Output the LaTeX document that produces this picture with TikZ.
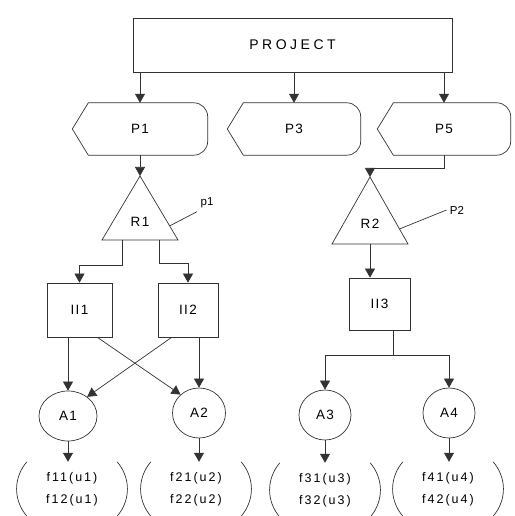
\documentclass[tikz,border=0pt]{standalone}
\usepackage{fontspec}
\setmainfont{Liberation Sans}
\usetikzlibrary{arrows.meta,shapes.geometric,calc}
\begin{document}
\begin{tikzpicture}[x=1pt,y=1pt,
  line/.style={draw=black!80, line width=0.7pt},
  arr/.style={line, -{Triangle[length=9pt,width=10pt]}},
  big/.style={font=\fontsize{14}{16}\selectfont\addfontfeature{LetterSpace=25}},
  lbl/.style={font=\fontsize{13.5}{15}\selectfont\addfontfeature{LetterSpace=10}},
  small/.style={font=\fontsize{11.5}{13}\selectfont},
  boxnode/.style={line, rectangle, inner sep=0pt, lbl},
  pnode/.style={inner sep=0pt, minimum width=133pt, minimum height=52pt, lbl},
  anode/.style={line, ellipse, inner sep=0pt, minimum width=53pt, minimum height=50pt, lbl},
  fnode/.style={inner sep=0pt, minimum width=108pt, minimum height=54pt, align=center,
    font=\fontsize{12.5}{22}\selectfont\addfontfeature{LetterSpace=16}}
]
\useasboundingbox (0,0) rectangle (514,516);

% Project
\node[boxnode, big, minimum width=319pt, minimum height=54pt] (proj) at (292.5,471) {PROJECT};

% P shapes
\node[pnode, minimum width=135pt] (P1) at (140,387) {P1};
\node[pnode] (P3) at (294,387) {P3};
\node[pnode] (P5) at (444,387) {P5};
\foreach \n in {P1,P3,P5}{
  \draw[line] (\n.west) -- ([xshift=16pt]\n.north west) -- ([xshift=-14pt]\n.north east)
    to[out=0,in=90] ([yshift=-14pt]\n.north east) -- ([yshift=14pt]\n.south east)
    to[out=-90,in=0] ([xshift=-14pt]\n.south east) -- ([xshift=16pt]\n.south west) -- cycle;
}

% Triangles
\coordinate (R1t) at (140,340);
\coordinate (R1l) at (102,276);
\coordinate (R1r) at (178,276);
\draw[line] (R1t) -- (R1l) -- (R1r) -- cycle;
\node[lbl] (R1) at (140,294) {R1};
\coordinate (R2t) at (370,339);
\coordinate (R2l) at (332,272);
\coordinate (R2r) at (408,272);
\draw[line] (R2t) -- (R2l) -- (R2r) -- cycle;
\node[lbl] (R2) at (370,292) {R2};

\node[small] (p1) at (207,313) {p1};
\draw[line] ($(R1t)!0.78!(R1r)$) -- (p1.south west);
\node[small] (p2) at (457,306) {P2};
\draw[line] ($(R2t)!0.776!(R2r)$) -- (p2.west);

% U boxes
\node[boxnode, minimum width=65pt, minimum height=54pt] (U1) at (79.5,206) {II1};
\node[boxnode, minimum width=60pt, minimum height=54pt] (U2) at (188,206) {II2};
\node[boxnode, minimum width=61pt, minimum height=52pt] (U3) at (379.5,212) {II3};

% A ellipses
\node[anode, minimum width=58pt] (A1) at (68,100) {A1};
\node[anode] (A2) at (199,103) {A2};
\node[anode, minimum width=52pt] (A3) at (325,101) {A3};
\node[anode, minimum width=52pt] (A4) at (449,103) {A4};

% f nodes
\node[fnode] (f1) at (72,27) {f11(u1)\\f12(u1)};
\node[fnode] (f2) at (196,27) {f21(u2)\\f22(u2)};
\node[fnode] (f3) at (325,26) {f31(u3)\\f32(u3)};
\node[fnode] (f4) at (448,27) {f41(u4)\\f42(u4)};
\foreach \n in {f1,f2,f3,f4}{
  \draw[line] ([xshift=9pt]\n.north west) to[bend right=40] ([xshift=9pt]\n.south west);
  \draw[line] ([xshift=-9pt]\n.north east) to[bend left=40] ([xshift=-9pt]\n.south east);
}

% connectors
\draw[arr] (P1.north |- proj.south) -- (P1.north);
\draw[arr] (P3.north |- proj.south) -- (P3.north);
\draw[arr] (P5.north |- proj.south) -- (P5.north);
\draw[arr] (P1.south) -- (R1t);
\draw[arr] (P5.south) -- ++(0,-13) -| (R2t);

\draw[arr] ($(R1l)!0.27!(R1r)$) -- ++(0,-25) -| (U1.north);
\draw[arr] ($(R1l)!0.76!(R1r)$) -- ++(0,-23) -| (U2.north);
\draw[arr] (R2l -| R2t) -- (R2t |- U3.north);

\draw[arr] (A1.north |- U1.south) -- (A1.north);
\draw[arr] ([xshift=-15pt]U1.south east) -- (A2.135);
\draw[arr] ([xshift=14pt]U2.south west) -- (A1.45);
\draw[arr] (A2.north |- U2.south) -- (A2.north);

\coordinate (j3) at ($([xshift=14pt]U3.south)+(0,-25)$);
\draw[line] ([xshift=14pt]U3.south) -- (j3);
\draw[arr] (j3) -| (A3.north);
\draw[arr] (j3) -| (A4.north);

\draw[arr] (A1.south) -- (A1.south |- f1.north);
\draw[arr] (A2.south) -- (A2.south |- f2.north);
\draw[arr] (A3.south) -- (A3.south |- f3.north);
\draw[arr] (A4.south) -- (A4.south |- f4.north);
\end{tikzpicture}
\end{document}
